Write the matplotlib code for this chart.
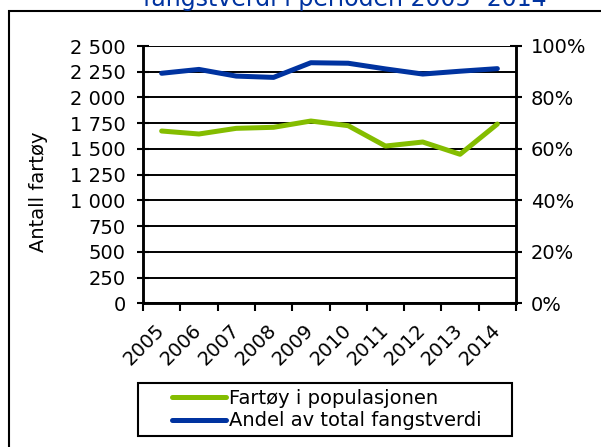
import matplotlib
matplotlib.use("Agg")
import matplotlib.pyplot as plt
from matplotlib.patches import Rectangle
from matplotlib.ticker import FuncFormatter, MultipleLocator
from matplotlib.transforms import ScaledTranslation

years = ["2005", "2006", "2007", "2008", "2009", "2010", "2011", "2012", "2013", "2014"]
fartoy = [1674, 1645, 1700, 1710, 1771, 1726, 1528, 1567, 1448, 1742]
andel = [0.894, 0.909, 0.883, 0.878, 0.935, 0.933, 0.911, 0.891, 0.902, 0.912]

green = "#84BD00"
blue = "#0033A0"

W, H = 601, 447
plt.rcParams['font.family'] = ['DejaVu Sans']
fig = plt.figure(figsize=(W / 100, H / 100), dpi=100)

def fx(px):
    return px / W

def fy(py):
    return 1 - py / H

# outer border (cropped chart frame)
fig.patches.append(Rectangle((fx(9), fy(470)), fx(700), fy(11) - fy(470),
                             transform=fig.transFigure, fill=False,
                             edgecolor="black", linewidth=1.5, zorder=0))

fig.text(fx(345), fy(6), "Antall fartøy og andel av total\nfangstverdi i perioden 2005- 2014",
         ha="center", va="baseline", color=blue, fontsize=17, linespacing=1.1)

left, right, bottom, top = 143, 516, 303.3, 46
ax = fig.add_axes([fx(left), fy(bottom), fx(right - left), fy(top) - fy(bottom)])
ax2 = ax.twinx()

x = list(range(len(years)))
l1, = ax.plot(x, fartoy, color=green, linewidth=3.6, solid_capstyle="round", zorder=3,
              label="Fartøy i populasjonen")
l2, = ax2.plot(x, andel, color=blue, linewidth=3.6, solid_capstyle="round", zorder=3,
               label="Andel av total fangstverdi")

ax.set_xlim(-0.5, len(years) - 0.5)
ax.set_ylim(0, 2500)
ax2.set_ylim(0, 1.0)
ax.yaxis.set_major_locator(MultipleLocator(250))
ax2.yaxis.set_major_locator(MultipleLocator(0.2))
ax.yaxis.set_major_formatter(FuncFormatter(lambda v, p: f"{int(v):,}".replace(",", " ")))
ax2.yaxis.set_major_formatter(FuncFormatter(lambda v, p: f"{int(round(v * 100))}%"))

ax.set_xticks([i - 0.5 for i in range(len(years) + 1)], minor=False)
ax.set_xticklabels([])
ax.set_xticks(x, minor=True)
ax.set_xticklabels(years, minor=True, rotation=45, ha="right", va="center",
                   rotation_mode="anchor", fontsize=14)
ax.tick_params(axis="x", which="minor", length=0, pad=17)
ax.tick_params(axis="x", which="major", direction="out", length=6, width=1.5)
off = ScaledTranslation(0, 0, fig.dpi_scale_trans)
for lab in ax.get_xticklabels(minor=True):
    lab.set_transform(lab.get_transform() + off)

ax.tick_params(axis="y", direction="inout", length=9, width=1.5, labelsize=14, pad=8)
ax2.tick_params(axis="y", direction="inout", length=9, width=1.5, labelsize=14, pad=6)

ax.grid(axis="y", color="black", linewidth=1.4)
ax.set_axisbelow(True)
for a in (ax, ax2):
    a.spines["top"].set_visible(False)
    for s in ["left", "right", "bottom"]:
        a.spines[s].set_linewidth(1.8)

fig.text(fx(38), fy(192), "Antall fartøy", rotation=90, ha="center", va="center",
         fontsize=14)

# legend
fig.patches.append(Rectangle((fx(138), fy(436)), fx(512 - 138), fy(383) - fy(436),
                             transform=fig.transFigure, fill=False,
                             edgecolor="black", linewidth=1.5))
fig.legend(handles=[l1, l2], loc="center", bbox_to_anchor=(fx(327), fy(409.5)),
           frameon=False, fontsize=14, handlelength=2.8, handletextpad=0.15,
           labelspacing=0.2, borderpad=0)

fig.savefig("out.png", dpi=100)
